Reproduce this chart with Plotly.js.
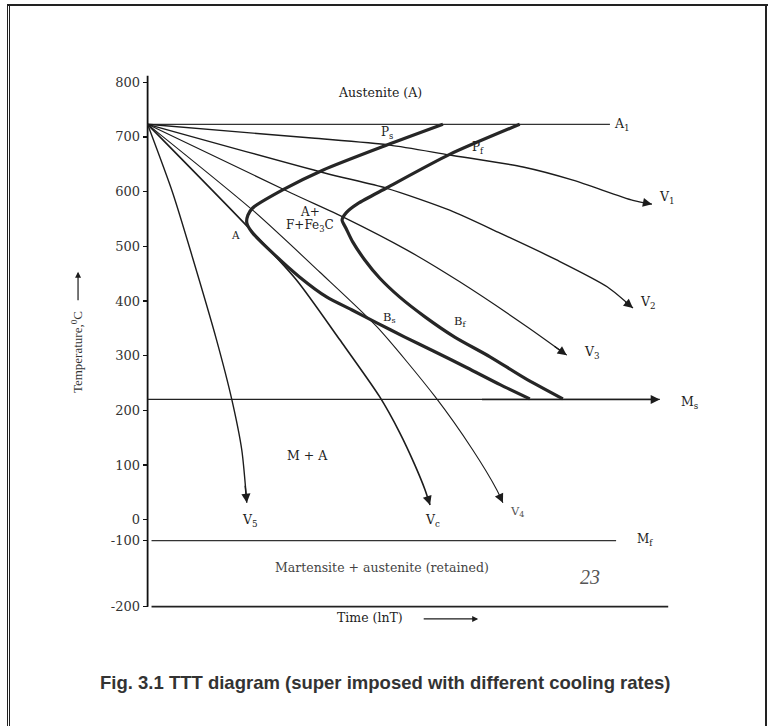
<!DOCTYPE html>
<html><head><meta charset="utf-8">
<script src="https://cdn.plot.ly/plotly-3.0.1.min.js"></script>
<style>
html,body{margin:0;padding:0;background:#fff;}
#wrap{position:relative;width:769px;height:726px;overflow:hidden;}
#chart{width:769px;height:726px;}
#ftop{position:absolute;left:7px;top:4px;width:761px;height:2px;background:#222;}
#fl1{position:absolute;left:7px;top:4px;width:1px;height:722px;background:#222;}
#fl2{position:absolute;left:9px;top:6px;width:1px;height:720px;background:#222;}
#fr{position:absolute;left:765px;top:4px;width:2px;height:722px;background:#222;}
</style></head><body>
<div id="wrap"><div id="chart"></div><div id="ftop"></div><div id="fl1"></div><div id="fl2"></div><div id="fr"></div></div>
<script>
// ---- data (x: time, ln t, arbitrary units; y: temperature, deg C) ----
const A1_TEMP = 723;
const MS_TEMP = 220;
const MF_TEMP = -100;
const AXIS_BOTTOM_TEMP = -200;

const v1X = [0, 2.93, 4.32, 5.39, 6.70, 7.59, 8.66, 9.0];
const v1T = [723, 698, 685, 667, 645, 621, 584, 577];
const v2X = [0, 3.16, 4.27, 5.39, 6.29, 7.30, 8.20, 8.66];
const v2T = [723, 634, 606, 566, 524, 475, 426, 387];
const v3X = [0, 2.57, 3.52, 4.63, 5.57, 6.77, 7.48];
const v3T = [723, 597, 552, 493, 435, 353, 301];
const v4X = [0, 1.875, 3.07, 4.09, 5.13, 5.80, 6.23, 6.34];
const v4T = [723, 566, 453, 353, 225, 128, 55, 31];
const vcX = [0, 1.82, 2.66, 3.43, 4.14, 4.5, 4.77, 4.95, 5.04];
const vcT = [723, 532, 438, 329, 225, 159, 100, 55, 27];
const v5X = [0, 0.45, 0.80, 1.23, 1.5, 1.68, 1.77];
const v5T = [723, 597, 480, 329, 221, 128, 31];

// pearlite/bainite start (Ps - Bs) and finish (Pf - Bf) curves
const psX = [5.27, 4.27, 3.125, 2.41, 1.875, 1.79, 1.77, 1.86, 2.23, 2.71, 3.20, 3.64, 4.09, 4.59, 5.09, 5.70, 6.29, 6.82];
const psT = [723, 685, 639, 603, 570, 557, 543, 526, 488, 444, 407, 384, 360, 334, 309, 278, 247, 221];
const pfX = [6.64, 5.39, 4.27, 3.75, 3.55, 3.47, 3.54, 3.66, 3.875, 4.14, 4.5, 4.95, 5.48, 6.11, 6.73, 7.41];
const pfT = [723, 668, 607, 578, 562, 548, 533, 508, 475, 442, 407, 371, 334, 298, 259, 221];

const A1_END = 8.25, MS_END = 9.14, MF_END = 8.36, BASE_START = 0.07, BASE_END = 9.29;

// tick labels of the (scanned, non-uniform) temperature axis
const tempTicks = [800, 700, 600, 500, 400, 300, 200, 100, 0, -100, -200];
// the picture squeezes 0..-100 and stretches -100..-200: piecewise display scale
function axisPos(t) {
  if (t >= 0) return t;
  if (t >= -100) return t * 0.38;
  return -38 + (t + 100) * 1.21;
}

const ink = '#1c1c1c';
const serif = 'DejaVu Serif, serif';
const tserif = 'Liberation Serif, Times New Roman, serif';

function curve(x, y, w, col) {
  return {type: 'scatter', mode: 'lines', x: x, y: y, hoverinfo: 'skip',
    line: {color: col || ink, width: w, shape: 'spline', smoothing: 0.7}};
}
function straight(x, y, w, col) {
  return {type: 'scatter', mode: 'lines', x: x, y: y, hoverinfo: 'skip',
    line: {color: col || ink, width: w}};
}

const mfPos = axisPos(MF_TEMP), basePos = axisPos(AXIS_BOTTOM_TEMP);

const traces = [
  straight([0, 0], [basePos, 812], 1.8, '#111'),
  straight([0, A1_END], [A1_TEMP, A1_TEMP], 1.2, '#333'),
  straight([0, MS_END], [MS_TEMP, MS_TEMP], 1.3, '#222'),
  straight([BASE_START, MF_END], [mfPos, mfPos], 1.2, '#333'),
  straight([BASE_START, BASE_END], [basePos, basePos], 1.8, '#222'),
  curve(v1X, v1T, 1.4), curve(v2X, v2T, 1.4), curve(v3X, v3T, 1.2),
  curve(v4X, v4T, 1.1), curve(vcX, vcT, 1.6), curve(v5X, v5T, 1.4),
  curve(psX, psT, 3.2, '#262626'), curve(pfX, pfT, 3.2, '#262626')
];

const ann = [];
function lab(text, x, y, size, extra) {
  ann.push(Object.assign({text: text, x: x, y: y, xref: 'x', yref: 'y', showarrow: false,
    xanchor: 'center', yanchor: 'middle',
    font: {family: serif, size: size || 12.5, color: '#222'}}, extra || {}));
}
function arrowEnd(xs, ys) {
  const n = xs.length;
  const x1 = xs[n - 1], y1 = ys[n - 1], x0 = xs[n - 2], y0 = ys[n - 2];
  const f = 0.35;
  ann.push({x: x1, y: y1, ax: x1 - (x1 - x0) * f, ay: y1 - (y1 - y0) * f,
    xref: 'x', yref: 'y', axref: 'x', ayref: 'y', text: '', showarrow: true,
    arrowhead: 2, arrowsize: 1.3, arrowwidth: 1.4, arrowcolor: ink, standoff: 0});
}
[[v1X, v1T], [v2X, v2T], [v3X, v3T], [v4X, v4T], [vcX, vcT], [v5X, v5T]].forEach(p => arrowEnd(p[0], p[1]));
arrowEnd([0, MS_END], [MS_TEMP, MS_TEMP]);

lab('Austenite (A)', 4.14, 782, 12.5);
lab('A<sub>1</sub>', 8.29, A1_TEMP, 12.5, {xanchor: 'left'});
lab('P<sub>s</sub>', 4.27, 707, 12);
lab('P<sub>f</sub>', 5.89, 679, 12);
lab('V<sub>1</sub>', 9.27, 590, 12.5);
lab('A+', 2.89, 563, 12);
lab('F+Fe<sub>3</sub>C', 2.89, 537, 12);
lab('A', 1.57, 521, 10.5);
lab('V<sub>2</sub>', 8.93, 398, 12.5);
lab('B<sub>s</sub>', 4.32, 369, 11.5);
lab('B<sub>f</sub>', 5.57, 362, 11.5);
lab('V<sub>3</sub>', 7.93, 305, 12.5);
lab('M<sub>s</sub>', 9.68, 215, 12.5);
lab('M + A', 2.86, 117, 12.5);
lab('V<sub>5</sub>', 1.82, -2, 12.5);
lab('V<sub>c</sub>', 5.09, -2, 12.5);
lab('V<sub>4</sub>', 6.59, 15, 11.5, {font: {family: serif, size: 11.5, color: '#555'}});
lab('M<sub>f</sub>', 8.88, -37, 12);
lab('Martensite + austenite (retained)', 4.18, -88, 12.5, {font: {family: serif, size: 12.5, color: '#444'}});
lab('23', 7.9, -104, 19, {font: {family: tserif, size: 20, color: '#555', style: 'italic'}});

// axis titles and caption (paper coordinates)
ann.push({text: 'Time (lnT)', xref: 'paper', yref: 'paper', x: 0.403, y: -0.0149, xanchor: 'center', yanchor: 'middle',
  showarrow: false, font: {family: serif, size: 12.5, color: '#222'}});
ann.push({text: '', xref: 'paper', yref: 'paper', x: 0.594, y: -0.0167, ax: -56, ay: 0, showarrow: true,
  arrowhead: 2, arrowsize: 1, arrowwidth: 1.2, arrowcolor: ink, standoff: 0});
ann.push({text: 'Temperature,<sup>0</sup>C', xref: 'paper', yref: 'paper', x: -0.115, y: 0.481, textangle: -90,
  xanchor: 'center', yanchor: 'middle', showarrow: false, font: {family: tserif, size: 13, color: '#333'}});
ann.push({text: '', xref: 'paper', yref: 'paper', x: -0.113, y: 0.631, ax: 0, ay: 30, showarrow: true,
  arrowhead: 2, arrowsize: 1, arrowwidth: 1.2, arrowcolor: ink, standoff: 0});
ann.push({text: '<b>Fig. 3.1 TTT diagram (super imposed with different cooling rates)</b>', xref: 'paper', yref: 'paper',
  x: 0.429, y: -0.136, xanchor: 'center', yanchor: 'middle', showarrow: false,
  font: {family: 'Liberation Sans, Arial, sans-serif', size: 18.5, color: '#333'}});

const tickPos = tempTicks.map(axisPos);
const tickText = tempTicks.map(String);
const x0pos = 0.1 / 10.1;

const layout = {
  width: 769, height: 726,
  margin: {l: 142, r: 61, t: 74, b: 116},
  paper_bgcolor: '#fff', plot_bgcolor: '#fff',
  showlegend: false,
  xaxis: {range: [-0.1, 10], visible: false, fixedrange: true},
  yaxis: {range: [-165, 815], anchor: 'free', position: x0pos, showline: false, showgrid: false, zeroline: false,
    tickmode: 'array', tickvals: tickPos, ticktext: tickText, ticks: 'outside', ticklen: 5, tickwidth: 1.3,
    tickcolor: '#111', tickfont: {family: serif, size: 13, color: '#333'}, fixedrange: true},
  yaxis2: {range: [-165, 815], overlaying: 'y', anchor: 'free', position: x0pos, side: 'left', showgrid: false,
    zeroline: false, showline: false, tickmode: 'array', tickvals: tickPos, ticks: 'inside', ticklen: 4,
    tickwidth: 1.3, tickcolor: '#111', showticklabels: false, fixedrange: true},
  annotations: ann
};

Plotly.newPlot('chart', traces, layout, {staticPlot: true, displayModeBar: false});
</script>
</body></html>
